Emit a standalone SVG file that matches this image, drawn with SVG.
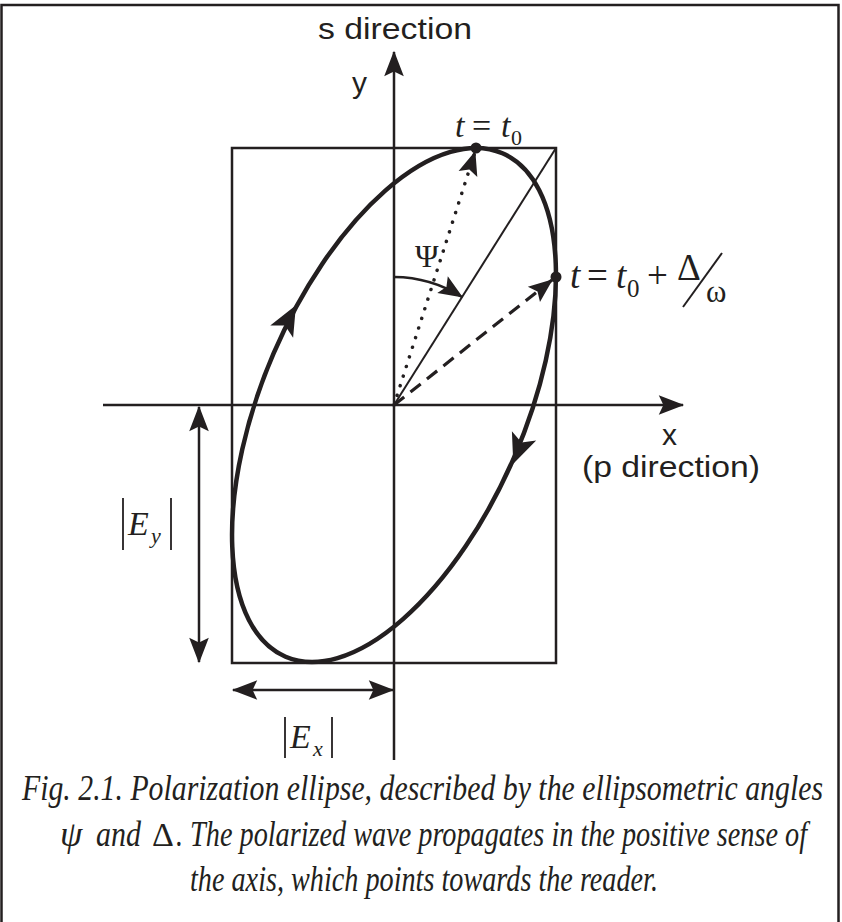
<svg xmlns="http://www.w3.org/2000/svg" width="842" height="922" viewBox="0 0 842 922">
<style>
.ln{stroke:#231f20;fill:none}
.sans{font-family:"Liberation Sans",Arial,sans-serif;fill:#231f20}
.ser{font-family:"Liberation Serif","Times New Roman",serif;fill:#231f20}
.it{font-style:italic}
.hd{fill:#231f20;stroke:none}
</style>
<defs>
<marker id="ah" markerUnits="userSpaceOnUse" markerWidth="30" markerHeight="30" viewBox="-24 -12 26 24" refX="0" refY="0" orient="auto-start-reverse" overflow="visible">
<path class="hd" d="M1,0 L-21,-8.5 L-17,0 L-21,8.5 Z"/>
</marker>
<marker id="ah2" markerUnits="userSpaceOnUse" markerWidth="30" markerHeight="30" viewBox="-24 -12 26 24" refX="0" refY="0" orient="auto" overflow="visible">
<path class="hd" d="M1,0 L-20,-8.5 L-16,0 L-20,8.5 Z"/>
</marker>
</defs>
<rect x="1.5" y="5" width="837" height="930" class="ln" stroke-width="2.5"/>
<g id="box"><rect x="232" y="148" width="324" height="515" class="ln" stroke-width="2.5"/></g>
<g id="connectors">
<line id="y-axis" x1="394" y1="760" x2="394" y2="52" class="ln" stroke-width="2.5" marker-end="url(#ah)"/>
<line id="x-axis" x1="103" y1="405" x2="683" y2="405" class="ln" stroke-width="2.5" marker-end="url(#ah)"/>
<line id="ey-arrow" x1="199" y1="407" x2="199" y2="662" class="ln" stroke-width="2.5" marker-start="url(#ah)" marker-end="url(#ah)"/>
<line id="ex-arrow" x1="233" y1="690" x2="393" y2="690" class="ln" stroke-width="2.5" marker-start="url(#ah)" marker-end="url(#ah)"/>
<line id="diag" x1="394" y1="405" x2="556" y2="148" class="ln" stroke-width="2"/>
<line id="dotted" x1="394" y1="405" x2="475" y2="152" class="ln" stroke-width="3.5" stroke-dasharray="0.1 10" stroke-linecap="round" marker-end="url(#ah2)"/>
<line id="dashed" x1="394" y1="405" x2="552" y2="280" class="ln" stroke-width="3.2" stroke-dasharray="13 8" marker-end="url(#ah2)"/>
<path id="psi-arc" d="M394,277 A128,128 0 0 1 462,297" class="ln" stroke-width="2.5" marker-end="url(#ah2)"/>
</g>
<g id="ellipse">
<ellipse cx="0" cy="0" rx="274.1" ry="131" transform="translate(394,405) rotate(-66.7)" class="ln" stroke-width="4.5"/>
<path class="hd" d="M2,0 L-28,-13 L-21,0 L-28,13 Z" transform="translate(295,307) rotate(-61.6)"/>
<path class="hd" d="M2,0 L-28,-13 L-21,0 L-28,13 Z" transform="translate(514,462) rotate(111)"/>
<circle cx="476" cy="148" r="5.5" class="hd"/>
<circle cx="556" cy="277" r="5.5" class="hd"/>
</g>
<g id="labels">
<text class="sans" x="318" y="39" font-size="30" textLength="154" lengthAdjust="spacingAndGlyphs">s direction</text>
<text class="sans" x="352" y="93" font-size="30">y</text>
<text class="sans" x="662" y="445" font-size="30">x</text>
<text class="sans" x="582" y="477" font-size="30" textLength="178" lengthAdjust="spacingAndGlyphs">(p direction)</text>
<g id="t0-label">
<text x="455" y="137" class="ser it" font-size="34">t</text>
<text x="472" y="137" class="ser" font-size="34">=</text>
<text x="501" y="137" class="ser it" font-size="34">t</text>
<text x="511" y="145" class="ser" font-size="22">0</text>
</g>
<g id="t1-label">
<text x="570" y="288" class="ser it" font-size="37">t</text>
<text x="587" y="288" class="ser" font-size="37">=</text>
<text x="616" y="288" class="ser it" font-size="37">t</text>
<text x="627" y="297" class="ser" font-size="25">0</text>
<text x="647" y="288" class="ser" font-size="37">+</text>
<text x="677" y="280" class="ser" font-size="37">Δ</text>
<line x1="683" y1="307" x2="722" y2="253" class="ln" stroke-width="2"/>
<text x="706" y="302" class="ser" font-size="31">ω</text>
</g>
<text class="ser" x="415" y="267" font-size="32">Ψ</text>
<g id="ey-label">
<line x1="123" y1="498" x2="123" y2="550" class="ln" stroke-width="1.8"/>
<line x1="171" y1="498" x2="171" y2="550" class="ln" stroke-width="1.8"/>
<text x="128" y="535" class="ser it" font-size="34">E</text>
<text x="151" y="543" class="ser it" font-size="22">y</text>
</g>
<g id="ex-label">
<line x1="285" y1="717" x2="285" y2="758" class="ln" stroke-width="1.8"/>
<line x1="332" y1="717" x2="332" y2="758" class="ln" stroke-width="1.8"/>
<text x="290" y="748" class="ser it" font-size="34">E</text>
<text x="313" y="756" class="ser it" font-size="22">x</text>
</g>
</g>
<g id="caption">
<text x="22" y="800" class="ser it" font-size="36" textLength="801" lengthAdjust="spacingAndGlyphs">Fig. 2.1. Polarization ellipse, described by the ellipsometric angles</text>
<text x="60" y="846" class="ser it" font-size="36">ψ</text>
<text x="96" y="846" class="ser it" font-size="36" textLength="45" lengthAdjust="spacingAndGlyphs">and</text>
<text x="152" y="846" class="ser" font-size="34">Δ</text>
<text x="176" y="846" class="ser it" font-size="36" textLength="631" lengthAdjust="spacingAndGlyphs">. The polarized wave propagates in the positive sense of</text>
<text x="190" y="891" class="ser it" font-size="36" textLength="468" lengthAdjust="spacingAndGlyphs">the axis, which points towards the reader.</text>
</g>
</svg>
